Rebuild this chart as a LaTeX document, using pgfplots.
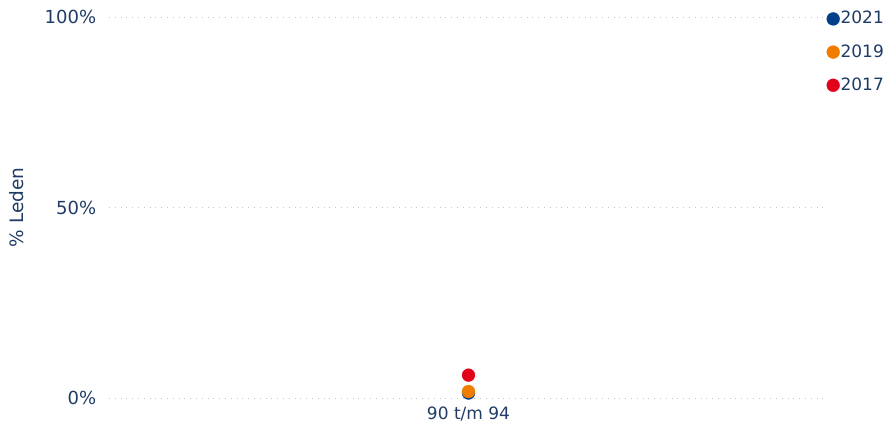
\documentclass[border=0pt]{standalone}
\usepackage{pgfplots}
\pgfplotsset{compat=1.18}
\usepackage{fontspec}
\setmainfont{DejaVu Sans}
\definecolor{txt}{HTML}{1F3B66}
\definecolor{c2021}{HTML}{003F8A}
\definecolor{c2019}{HTML}{F07D00}
\definecolor{c2017}{HTML}{E2001A}
\begin{document}
\fontsize{17}{20}\selectfont
\begin{tikzpicture}
\useasboundingbox (0,0) rectangle (888pt,425pt);
\begin{axis}[
  at={(109pt,27pt)}, anchor=south west,
  scale only axis, width=714pt, height=381pt,
  xmin=-1.007, xmax=0.993, ymin=0, ymax=100,
  clip=false,
  axis line style={draw=none},
  tick style={draw=none},
  xtick={0}, xticklabels={90 t/m 94},
  ytick={0,50,100},
  yticklabel={\pgfmathprintnumber{\tick}\%},
  /pgf/number format/assume math mode=true,
  ymajorgrids,
  grid style={gray!45, line width=0.8pt, dash pattern=on 0.8pt off 5pt},
  tick label style={text=txt},
  xticklabel style={font=\fontsize{17}{20}\selectfont, yshift=-3pt},
  yticklabel style={font=\fontsize{18}{21}\selectfont, xshift=-7pt},
  ylabel={\% Leden},
  every axis y label/.style={at={(rel axis cs:-0.129,0.5)}, rotate=90, anchor=center, text=txt, font=\fontsize{18.5}{21}\selectfont},
  legend style={draw=none, fill=none, at={(rel axis cs:1.005,1.018)}, anchor=north west,
    font=\fontsize{17}{20}\selectfont, text=txt, row sep=16pt, inner sep=0pt,
    nodes={inner sep=1pt}},
  legend cell align=left,
  legend image code/.code={\draw[#1] plot coordinates {(0.22cm,0cm)};},
]
\addplot[only marks, mark=*, color=c2021, mark size=6.4pt, mark options={solid, draw=c2021, fill=c2021}] coordinates {(0,1.3)};
\addlegendentry{2021}
\addplot[only marks, mark=*, color=c2019, mark size=6.4pt, mark options={solid, draw=c2019, fill=c2019}] coordinates {(0,1.7)};
\addlegendentry{2019}
\addplot[only marks, mark=*, color=c2017, mark size=6.4pt, mark options={solid, draw=c2017, fill=c2017}] coordinates {(0,6.0)};
\addlegendentry{2017}
\end{axis}
\end{tikzpicture}
\end{document}
